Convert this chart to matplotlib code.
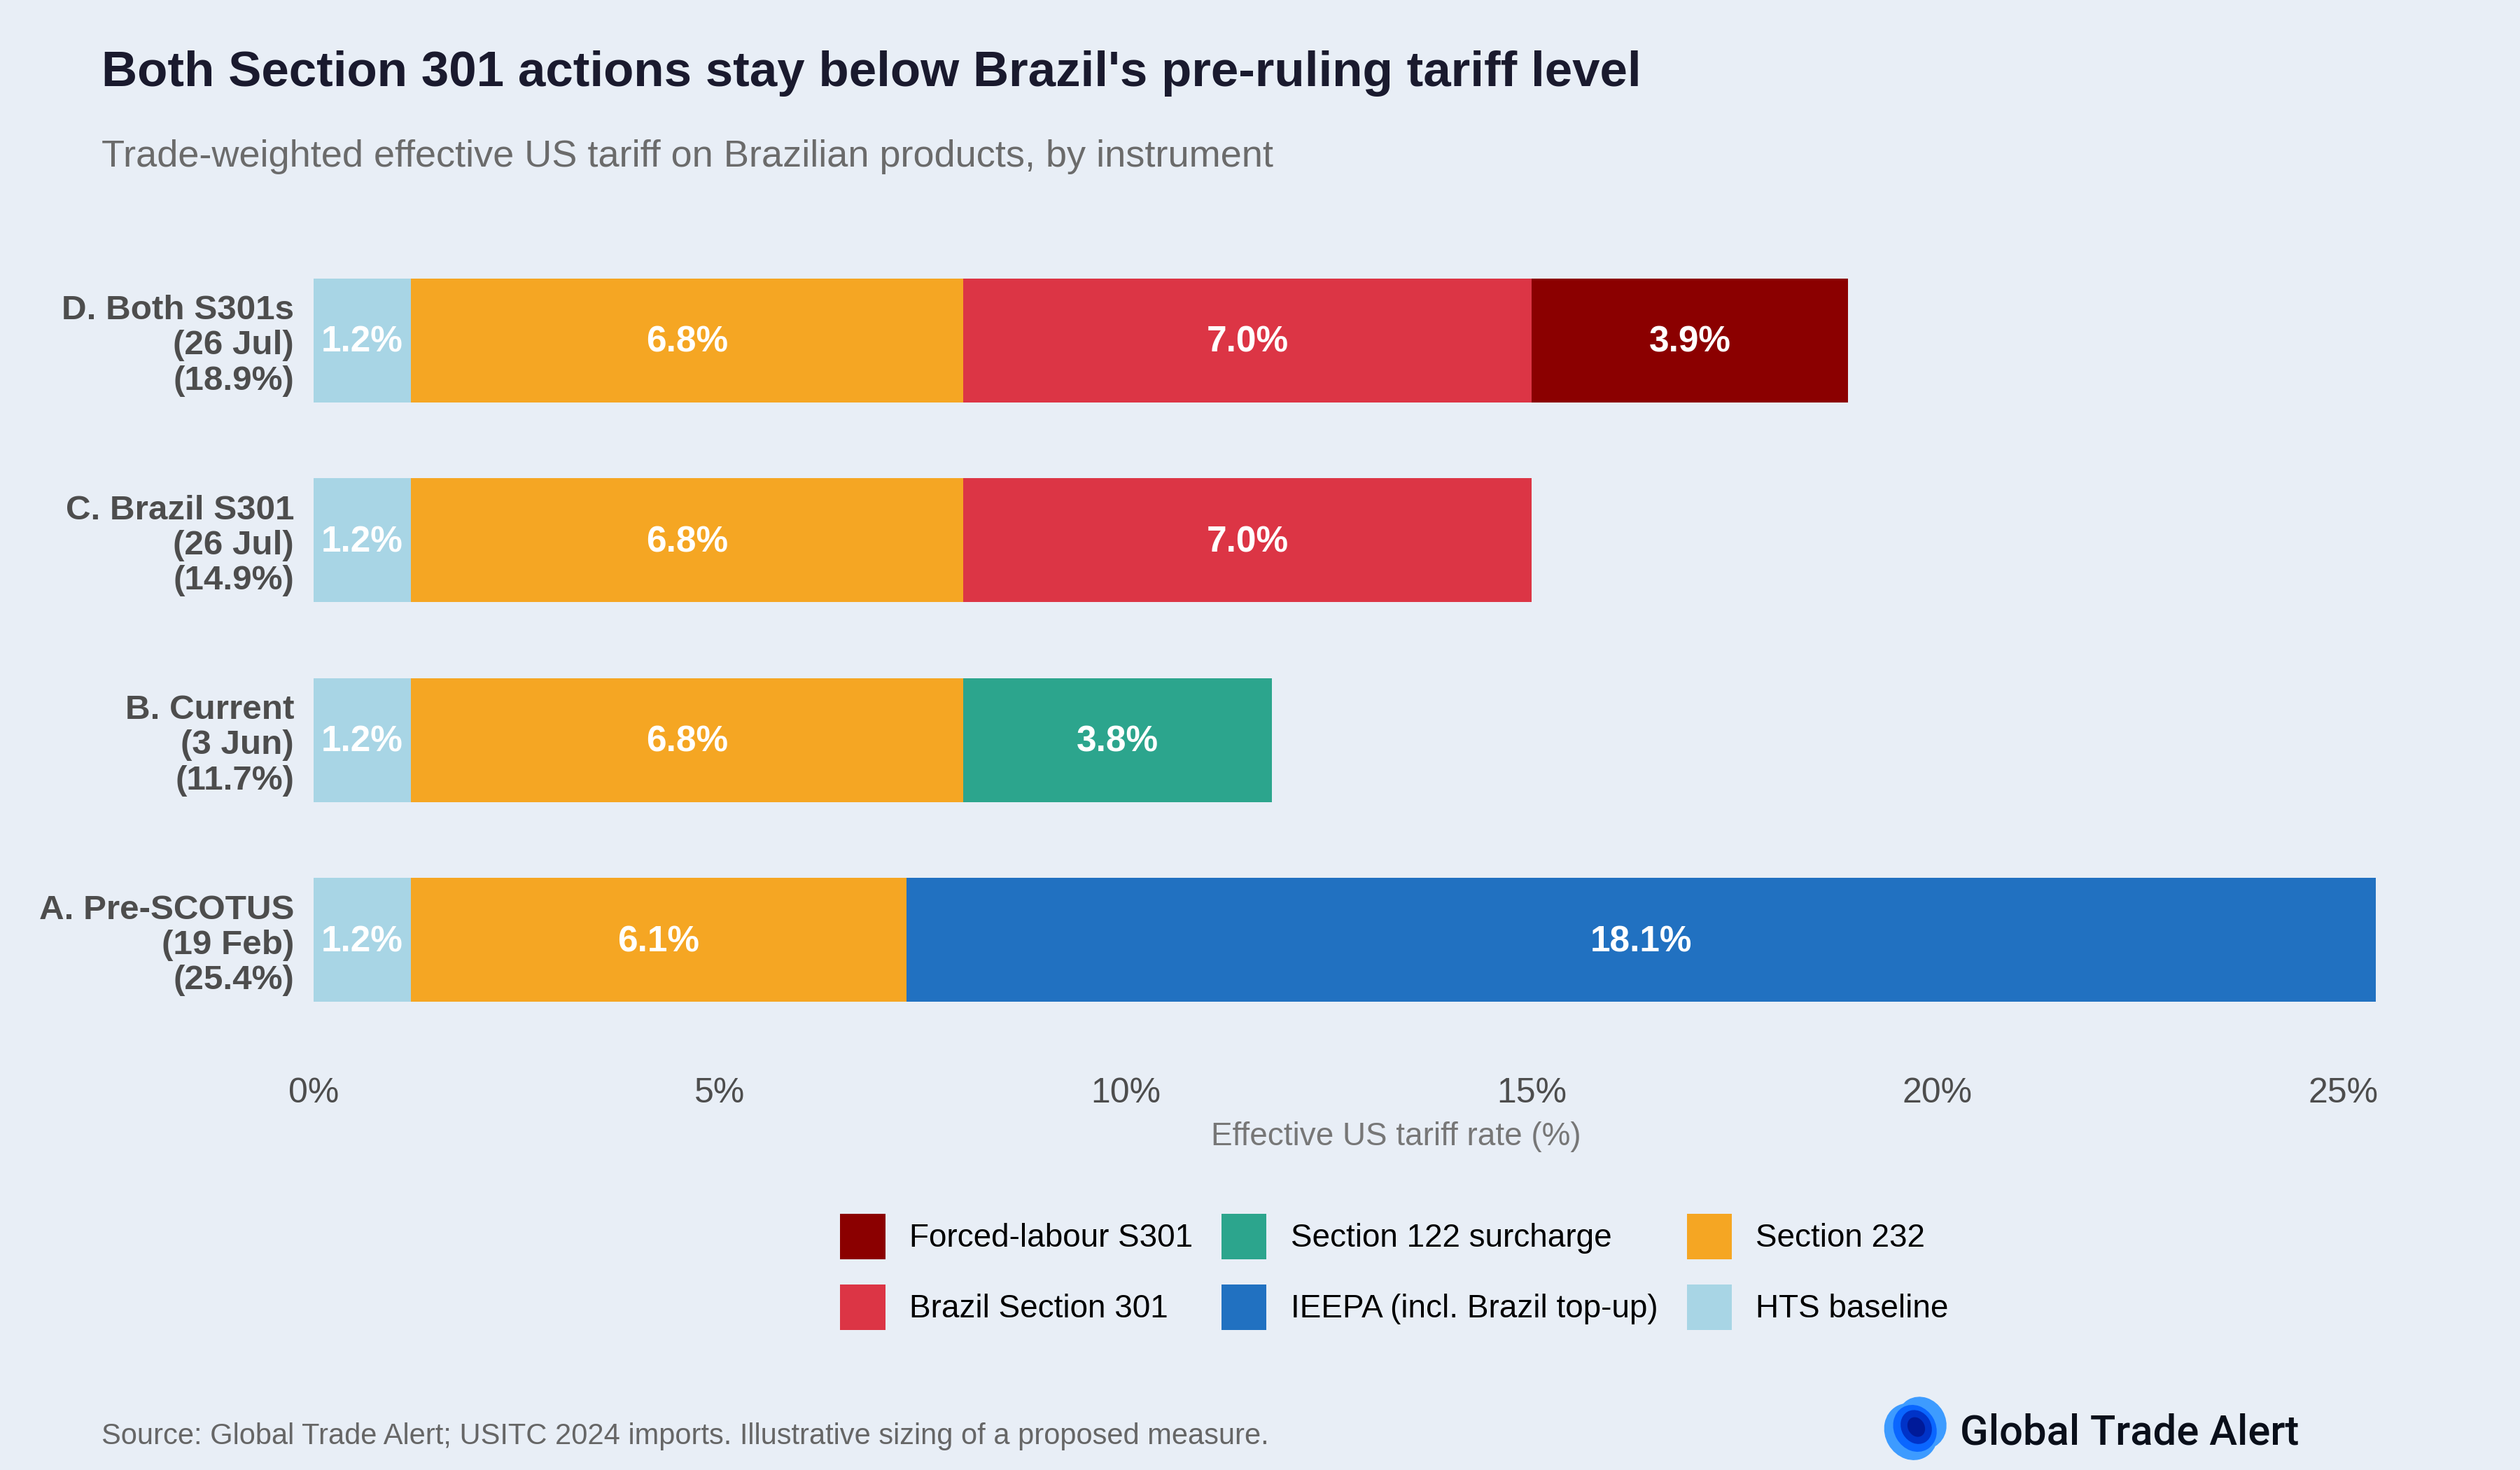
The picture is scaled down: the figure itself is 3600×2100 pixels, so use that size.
import matplotlib
matplotlib.use("Agg")
import matplotlib.pyplot as plt
from matplotlib.patches import Ellipse
import numpy as np

plt.rcParams["font.family"] = ["Liberation Sans", "DejaVu Sans"]

# ---- data (bottom to top) ----
scenarios = [
    "A. Pre-SCOTUS\n(19 Feb)\n(25.4%)",
    "B. Current\n(3 Jun)\n(11.7%)",
    "C. Brazil S301\n(26 Jul)\n(14.9%)",
    "D. Both S301s\n(26 Jul)\n(18.9%)",
]
hts_baseline = [1.2, 1.2, 1.2, 1.2]
section_232 = [6.1, 6.8, 6.8, 6.8]
ieepa = [18.1, 0.0, 0.0, 0.0]
section_122 = [0.0, 3.8, 0.0, 0.0]
brazil_301 = [0.0, 0.0, 7.0, 7.0]
forced_301 = [0.0, 0.0, 0.0, 3.9]

series_names = ["HTS baseline", "Section 232", "IEEPA (incl. Brazil top-up)",
                "Section 122 surcharge", "Brazil Section 301", "Forced-labour S301"]
series_vals = [hts_baseline, section_232, ieepa, section_122, brazil_301, forced_301]
series_cols = ["#a8d5e5", "#f5a623", "#2171c1", "#2ca58d", "#dc3545", "#8b0000"]

x_ticks = [0, 5, 10, 15, 20, 25]

BG = "#e8eef6"

fig = plt.figure(figsize=(18, 10.5), dpi=200, facecolor=BG)
ax = fig.add_axes([0.1244, 0.279, 0.8594, 0.571], facecolor=BG)

y = np.arange(len(scenarios))
left = np.zeros(len(scenarios))
for name, vals, col in zip(series_names, series_vals, series_cols):
    vals = np.array(vals)
    ax.barh(y, vals, left=left, height=0.62, color=col, label=name, linewidth=0)
    for yi, (l, v) in enumerate(zip(left, vals)):
        if v > 0:
            ax.text(l + v / 2, yi - 0.01, f"{v:.1f}%", ha="center", va="center",
                    color="white", fontsize=18.5, fontweight="bold")
    left = left + vals

ax.set_xlim(0, max(left) * 1.05)
ax.set_ylim(-0.6, 3.6)
ax.set_yticks(y)
ax.set_yticklabels(scenarios, fontsize=17.8, fontweight="bold", color="#4d4d4d",
                   linespacing=1.15)
ax.set_xticks(x_ticks)
ax.set_xticklabels([f"{t}%" for t in x_ticks], fontsize=18, color="#4d4d4d")
ax.tick_params(axis="both", length=0)
ax.tick_params(axis="y", pad=10)
ax.tick_params(axis="x", pad=9)
ax.set_xlabel("Effective US tariff rate (%)", fontsize=16.5, color="#777777", labelpad=6)
for s in ax.spines.values():
    s.set_visible(False)

# legend, reversed stack order
handles, labels = ax.get_legend_handles_labels()
fig.legend(handles[::-1], labels[::-1], ncol=3, loc="center",
           bbox_to_anchor=(1992 / 3600, 1 - 1817 / 2100), frameon=False,
           fontsize=16.5, handlelength=1.4, handleheight=1.8,
           handletextpad=0.75, columnspacing=0.9, labelspacing=0.78)

# titles
fig.text(145 / 3600, 1 - 123 / 2100, "Both Section 301 actions stay below Brazil's pre-ruling tariff level",
         fontsize=25.5, fontweight="bold", color="#1a1a2e", va="baseline")
fig.text(145 / 3600, 1 - 238 / 2100, "Trade-weighted effective US tariff on Brazilian products, by instrument",
         fontsize=19.5, color="#6b6b6b", va="baseline")
fig.text(145 / 3600, 1 - 2063 / 2100,
         "Source: Global Trade Alert; USITC 2024 imports. Illustrative sizing of a proposed measure.",
         fontsize=15, color="#666666", va="baseline")

# logo
lax = fig.add_axes([2690 / 3600, 1 - 2088 / 2100, 95 / 3600, 95 / 2100])
lax.set_xlim(0, 1)
lax.set_ylim(0, 1)
lax.axis("off")
lax.add_patch(Ellipse((0.42, 0.45), 0.75, 0.85, angle=30, color="#3d9bff"))
lax.add_patch(Ellipse((0.58, 0.58), 0.7, 0.78, angle=30, color="#3d9bff"))
lax.add_patch(Ellipse((0.48, 0.5), 0.6, 0.7, angle=30, color="#0a66ff"))
lax.add_patch(Ellipse((0.5, 0.52), 0.42, 0.5, angle=30, color="#0033c8"))
lax.add_patch(Ellipse((0.5, 0.52), 0.22, 0.28, angle=30, color="#001a99"))
fig.text(2800 / 3600, 1 - 2063 / 2100, "Global Trade Alert", fontsize=21.5,
         family=["Roboto", "DejaVu Sans"], fontweight="medium", color="#0a0f1a", va="baseline")

fig.savefig("out.png", dpi=200, facecolor=BG)
